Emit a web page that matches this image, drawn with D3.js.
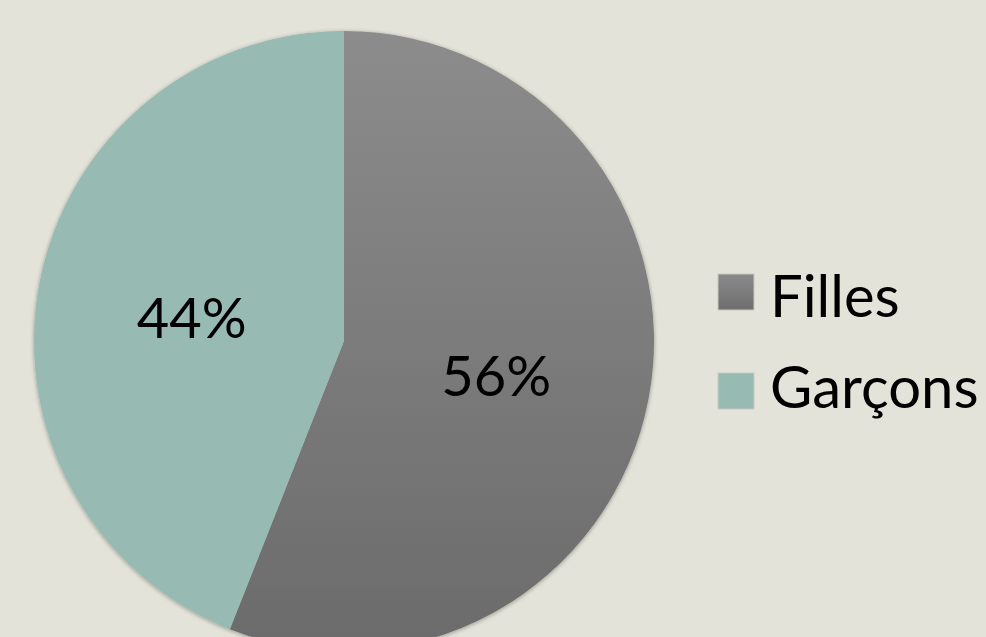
<!DOCTYPE html>
<html>
<head>
<meta charset="utf-8">
<script src="https://cdn.jsdelivr.net/npm/d3@7"></script>
<style>
  html, body { margin: 0; padding: 0; background: #e4e3d9; }
  svg { display: block; }
</style>
</head>
<body>
<svg id="pie" width="986" height="637"></svg>
<script>
let categories = ["Filles", "Garçons"],
	values = [56, 44],
	labels = ["56%", "44%"];

let svg = d3.select("svg#pie"),
	cx = 344, cy = 341, radius = 310;

let defs = svg.append("defs");

// gray gradient for Filles, like the office chart
let grad = defs.append("linearGradient")
	.attr("id", "grayGrad")
	.attr("x1", 0).attr("y1", 0).attr("x2", 0).attr("y2", 1);
grad.append("stop").attr("offset", "0%").attr("stop-color", "#8c8c8c");
grad.append("stop").attr("offset", "100%").attr("stop-color", "#6b6b6b");

let lgrad = defs.append("linearGradient")
	.attr("id", "grayGradLeg")
	.attr("x1", 0).attr("y1", 0).attr("x2", 0).attr("y2", 1);
lgrad.append("stop").attr("offset", "0%").attr("stop-color", "#8a8a8a");
lgrad.append("stop").attr("offset", "100%").attr("stop-color", "#6e6e6e");

let shadow = defs.append("filter").attr("id", "shadow")
	.attr("x", "-10%").attr("y", "-10%").attr("width", "120%").attr("height", "120%");
shadow.append("feDropShadow")
	.attr("dx", 0).attr("dy", 1).attr("stdDeviation", 2)
	.attr("flood-color", "#000").attr("flood-opacity", 0.35);

let color = d3.scaleOrdinal()
	.domain(categories)
	.range(["url(#grayGrad)", "#97bab3"]);
let legColor = d3.scaleOrdinal()
	.domain(categories)
	.range(["url(#grayGradLeg)", "#97bab3"]);

let pie = d3.pie().sort(null).value(function(d) { return d.value; });
let data = categories.map(function(c, i) { return { name: c, value: values[i], label: labels[i] }; });
let arcs = pie(data);

let arc = d3.arc().innerRadius(0).outerRadius(radius);

let g = svg.append("g").attr("transform", "translate(" + cx + "," + cy + ")");

g.append("g").attr("filter", "url(#shadow)")
	.selectAll("path")
	.data(arcs)
	.enter().append("path")
	.attr("d", arc)
	.attr("fill", function(d) { return color(d.data.name); });

g.selectAll("text")
	.data(arcs)
	.enter().append("text")
	.attr("transform", function(d) {
		let c = arc.centroid(d);
		return "translate(" + c[0] + "," + (c[1] + 26) + ")";
	})
	.attr("text-anchor", "middle")
	.style("font-family", "Lato, 'Open Sans', sans-serif")
	.style("font-size", "56px")
	.style("fill", "#000")
	.text(function(d) { return d.data.label; });

// legend
let legend = svg.append("g").attr("transform", "translate(718,274)");
let item = legend.selectAll("g")
	.data(categories)
	.enter().append("g");

item.append("rect")
	.attr("y", function(d, i) { return i * 99; })
	.attr("width", 36).attr("height", 36)
	.attr("fill", function(d) { return legColor(d); })
	.attr("stroke", "#c9c9c0").attr("stroke-width", 1);

item.append("text")
	.attr("x", 52)
	.attr("y", function(d, i) { return 43 + i * 91; })
	.style("font-family", "Lato, 'Open Sans', sans-serif")
	.style("font-size", "58px")
	.style("fill", "#000")
	.text(function(d) { return d; });
</script>
</body>
</html>
